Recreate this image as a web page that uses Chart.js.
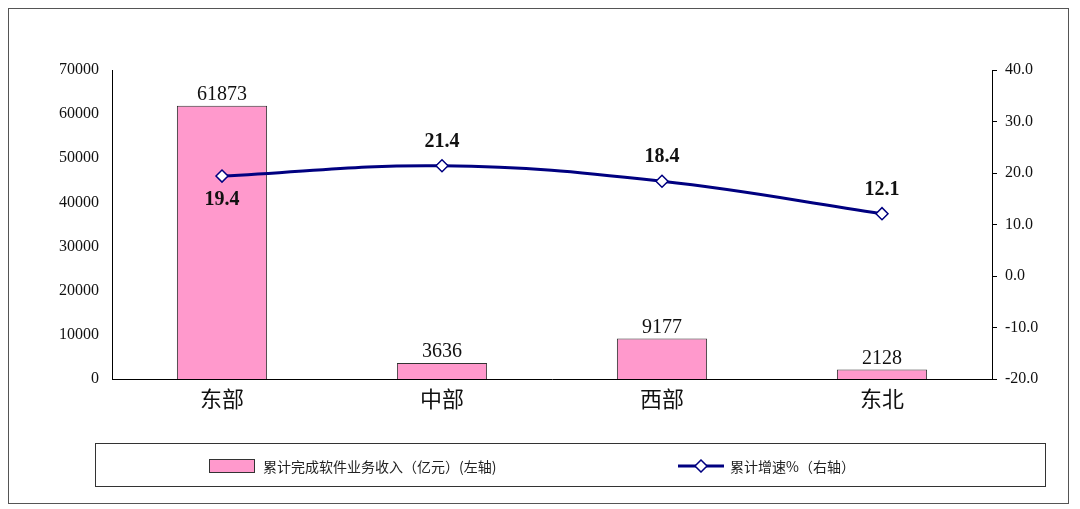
<!DOCTYPE html>
<html><head><meta charset="utf-8">
<script src="https://cdn.jsdelivr.net/npm/chart.js@4"></script>
<style>
body{margin:0;width:1080px;height:509px;background:#fff;position:relative;overflow:hidden}
#frame{position:absolute;left:8px;top:8px;width:1061px;height:496px;border:1px solid #555;box-sizing:border-box}
#legend{position:absolute;left:95px;top:443px;width:951px;height:44px;border:1px solid #333;box-sizing:border-box;font-family:"Noto Sans CJK SC";font-size:14px;color:#222}
.it{position:absolute;top:12px;display:flex;align-items:center}
canvas{position:absolute;left:0;top:0}
</style></head><body>
<div id="frame"></div>
<canvas id="c" width="1080" height="509"></canvas>
<div id="legend">
 <div class="it" style="left:113px"><span style="display:inline-block;width:44px;height:12px;background:#FF99CC;border:1px solid #333;margin-right:8px"></span>累计完成软件业务收入（亿元）(左轴)</div>
 <div class="it" style="left:582px"><svg width="46" height="14" style="margin-right:6px"><line x1="0" y1="7" x2="46" y2="7" stroke="#000080" stroke-width="3"/><polygon points="23,1 29,7 23,13 17,7" fill="#fff" stroke="#000080" stroke-width="1.5"/></svg>累计增速%（右轴）</div>
</div>
<script>
const categories=["东部","中部","西部","东北"];
const revenue=[61873,3636,9177,2128];
const growth=[19.4,21.4,18.4,12.1];
const growthLabelBelow=[true,false,false,false];
const labelPlugin={id:'lbl',afterDatasetsDraw(ch){
 const c=ch.ctx,x=ch.scales.x,y=ch.scales.y,y1=ch.scales.y1;
 c.save();c.fillStyle='#111';c.textAlign='center';
 c.font='20px "Liberation Serif"';c.textBaseline='bottom';
 revenue.forEach((v,i)=>c.fillText(String(v),x.getPixelForValue(i),y.getPixelForValue(v)-1));
 c.font='bold 20px "Liberation Serif"';
 growth.forEach((v,i)=>{const px=x.getPixelForValue(i),py=y1.getPixelForValue(v);
  if(growthLabelBelow[i]){c.textBaseline='top';c.fillText(v.toFixed(1),px,py+14);}
  else{c.textBaseline='bottom';c.fillText(v.toFixed(1),px,py-14);}});
 c.restore();}};
new Chart(document.getElementById('c'),{
 data:{labels:categories,datasets:[
  {type:'line',data:growth,yAxisID:'y1',borderColor:'#000080',borderWidth:3,tension:0.4,pointStyle:'rectRot',pointRadius:6,pointBackgroundColor:'#fff',pointBorderColor:'#000080',pointBorderWidth:1.5,order:0},
  {type:'bar',data:revenue,yAxisID:'y',backgroundColor:'#FF99CC',borderColor:'#333',borderWidth:1,barPercentage:0.41,categoryPercentage:1,order:1}
 ]},
 options:{responsive:false,animation:false,layout:{padding:{top:70,left:0,right:0,bottom:0}},
  plugins:{legend:{display:false},tooltip:{enabled:false}},
  scales:{
   x:{grid:{display:false,drawTicks:false},border:{color:'#000'},ticks:{color:'#111',font:{family:'"Noto Sans CJK SC"',size:22},padding:6},afterFit(s){s.height=130;}},
   y:{position:'left',min:0,max:70000,ticks:{stepSize:10000,color:'#111',callback:v=>String(v),font:{family:'"Liberation Serif"',size:16},padding:8},grid:{display:false,drawOnChartArea:false,drawTicks:true,tickLength:5,color:'#000'},border:{color:'#000'},afterFit(s){s.width=112;}},
   y1:{position:'right',min:-20,max:40,ticks:{stepSize:10,color:'#111',callback:v=>v.toFixed(1),font:{family:'"Liberation Serif"',size:16},padding:8},grid:{drawOnChartArea:false,tickLength:5,color:'#000'},border:{color:'#000'},afterFit(s){s.width=88;}}
  }}
 ,plugins:[labelPlugin]});
</script></body></html>
